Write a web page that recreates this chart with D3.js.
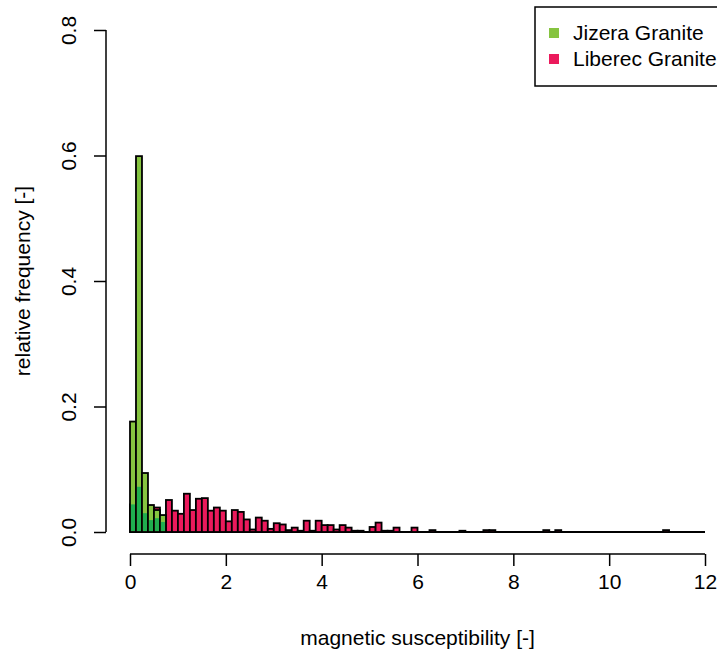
<!DOCTYPE html>
<html>
<head>
<meta charset="utf-8">
<script src="https://cdn.jsdelivr.net/npm/d3@7"></script>
<style>
  body { margin: 0; background: #fff; }
  svg text { font-family: "Liberation Sans", Arial, sans-serif; fill: #000; }
</style>
</head>
<body>
<div id="chart"></div>
<script>
// histogram bins, width 0.125, starting at 0
var binWidth = 0.125;
var jizera = [0.176, 0.599, 0.094, 0.043, 0.035, 0.027];
// part of the Jizera bars drawn darker (overlap with Liberec)
var overlap = [0.044, 0.072, 0.030, 0.019, 0.022, 0.016];
var liberec = [0.044, 0.072, 0.030, 0.019, 0.039, 0.016, 0.051, 0.034,
  0.029, 0.061, 0.035, 0.053, 0.054, 0.034, 0.039, 0.034,
  0.017, 0.035, 0.032, 0.020, 0.004, 0.023, 0.018, 0.005,
  0.014, 0.012, 0.003, 0.007, 0.002, 0.018, 0.002, 0.018,
  0.011, 0.011, 0.004, 0.011, 0.007, 0.002, 0.002, 0,
  0.008, 0.015, 0.002, 0.002, 0.007, 0, 0, 0.007,
  0, 0, 0.003, 0, 0, 0, 0, 0.002,
  0, 0, 0, 0.003, 0.003, 0, 0, 0,
  0, 0, 0, 0, 0, 0.003, 0, 0.003,
  0, 0, 0, 0, 0, 0, 0, 0,
  0, 0, 0, 0, 0, 0, 0, 0,
  0, 0.003, 0, 0, 0, 0, 0, 0];
var xTicks = [0, 2, 4, 6, 8, 10, 12];
var yTicks = [0, 0.2, 0.4, 0.6, 0.8];
var legendNames = ["Jizera Granite", "Liberec Granite"];
var colors = { jizera: "#86c440", overlap: "#1fae4f", liberec: "#eb1a5c" };

var W = 717, H = 654;
var svg = d3.select("#chart").append("svg")
  .attr("width", W).attr("height", H);

var x = d3.scaleLinear().domain([0, 12]).range([130, 705]);
var y = d3.scaleLinear().domain([0, 0.8]).range([532, 30]);

function bars(values, color, cls) {
  svg.append("g").attr("class", cls)
    .selectAll("rect")
    .data(values.map(function (v, i) { return { x0: i * binWidth, v: v }; }))
    .enter().append("rect")
    .attr("x", function (d) { return x(d.x0); })
    .attr("width", function (d) { return x(d.x0 + binWidth) - x(d.x0); })
    .attr("y", function (d) { return y(d.v); })
    .attr("height", function (d) { return y(0) - y(d.v); })
    .attr("fill", color)
    .attr("stroke", "#000")
    .attr("stroke-width", 1.8);
}

// baseline of empty bins
svg.append("line")
  .attr("x1", x(0)).attr("x2", x(12))
  .attr("y1", y(0)).attr("y2", y(0))
  .attr("stroke", "#000").attr("stroke-width", 1.8);

bars(liberec, colors.liberec, "liberec");
bars(jizera, colors.jizera, "jizera");
// darker lower part, no outline on top edge
svg.append("g").selectAll("rect")
  .data(overlap.map(function (v, i) { return { x0: i * binWidth, v: v }; }))
  .enter().append("rect")
  .attr("x", function (d) { return x(d.x0) + 1; })
  .attr("width", function (d) { return x(d.x0 + binWidth) - x(d.x0) - 2; })
  .attr("y", function (d) { return y(d.v); })
  .attr("height", function (d) { return y(0) - y(d.v) - 1; })
  .attr("fill", colors.overlap);

// x axis
var xAxis = svg.append("g")
  .attr("transform", "translate(0,554)")
  .call(d3.axisBottom(x).tickValues(xTicks).tickSize(12).tickPadding(8)
    .tickFormat(d3.format("d")));
xAxis.select(".domain").attr("d", "M" + x(0) + ",0H" + x(12)).attr("stroke-width", 1.5);
xAxis.selectAll(".tick line").attr("stroke-width", 1.5);
xAxis.selectAll("text").style("font-size", "21px")
  .style("font-family", "Liberation Sans, Arial, sans-serif");

// y axis
var yAxis = svg.append("g")
  .attr("transform", "translate(106,0)")
  .call(d3.axisLeft(y).tickValues(yTicks).tickSize(12).tickFormat(d3.format(".1f")));
yAxis.select(".domain").attr("d", "M0," + y(0.8) + "V" + y(0)).attr("stroke-width", 1.5);
yAxis.selectAll(".tick line").attr("stroke-width", 1.5);
yAxis.selectAll("text").remove();
yAxis.selectAll(".tick").append("text")
  .attr("transform", "translate(-30,0) rotate(-90)")
  .attr("text-anchor", "middle")
  .style("font-size", "21px")
  .style("font-family", "Liberation Sans, Arial, sans-serif")
  .attr("fill", "#000")
  .text(function (d) { return d3.format(".1f")(d); });

// titles
svg.append("text")
  .attr("x", x(6)).attr("y", 645)
  .attr("text-anchor", "middle").style("font-size", "21px")
  .text("magnetic susceptibility [-]");
svg.append("text")
  .attr("transform", "translate(30,281) rotate(-90)")
  .attr("text-anchor", "middle").style("font-size", "21px")
  .text("relative frequency [-]");

// legend
var legend = svg.append("g");
legend.append("rect")
  .attr("x", 535).attr("y", 7).attr("width", 200).attr("height", 79)
  .attr("fill", "#fff").attr("stroke", "#000").attr("stroke-width", 1.5);
var items = legend.selectAll(".item")
  .data([{ name: legendNames[0], color: colors.jizera }, { name: legendNames[1], color: colors.liberec }])
  .enter().append("g")
  .attr("transform", function (d, i) { return "translate(0," + (33 + i * 26) + ")"; });
items.append("rect")
  .attr("x", 549).attr("y", -5).attr("width", 10).attr("height", 10)
  .attr("fill", function (d) { return d.color; });
items.append("text")
  .attr("x", 573).attr("dy", "0.35em")
  .style("font-size", "21px")
  .text(function (d) { return d.name; });
</script>
</body>
</html>
